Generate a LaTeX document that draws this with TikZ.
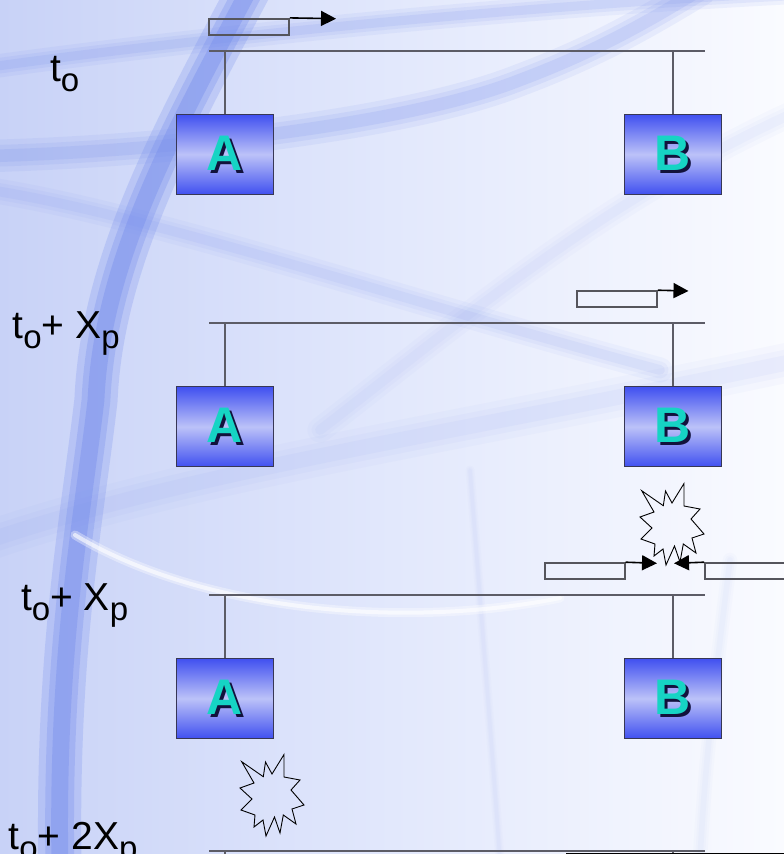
\documentclass[tikz,border=0pt]{standalone}
\usepackage{fontspec}
\setmainfont{Liberation Sans}
\usetikzlibrary{arrows.meta}
\definecolor{bgL}{RGB}{200,210,247}
\definecolor{bgM}{RGB}{226,232,252}
\definecolor{bgR}{RGB}{250,251,255}
\definecolor{streak}{RGB}{112,136,236}
\definecolor{boxedge}{RGB}{55,55,85}
\definecolor{boxA}{RGB}{64,80,240}
\definecolor{boxB}{RGB}{188,194,248}
\definecolor{letterc}{RGB}{22,212,196}
\definecolor{shadowc}{RGB}{18,18,60}
\definecolor{busc}{RGB}{92,92,102}
\definecolor{pktc}{RGB}{85,85,92}
\newcommand\shletter[1]{\makebox[0pt][l]{\hspace{2.8pt}\raisebox{-2.8pt}{\color{shadowc}#1}}{\color{letterc}#1}}
\newcommand\tsub[1]{\raisebox{-10pt}{\fontsize{33}{33}\selectfont #1}}
\tikzset{
  stationbox/.style={draw=boxedge, line width=1.2pt, top color=boxA, bottom color=boxA,
    middle color=boxB, minimum width=97pt, minimum height=80pt, inner sep=0pt,
    font=\fontsize{50}{50}\selectfont\bfseries},
  busline/.style={draw=busc, line width=1.6pt},
  pkt/.style={draw=pktc, line width=1.6pt, minimum width=80pt, minimum height=16pt, inner sep=0pt},
  pktarrow/.style={draw=black, line width=1.6pt, -{Triangle[length=15pt,width=15pt]}},
  boom/.style={draw=black, line width=0.9pt, line join=miter},
  timelabel/.style={anchor=base west, inner sep=0pt, outer sep=0pt, font=\fontsize{39}{39}\selectfont},
  bgstreak/.style={draw=streak, line cap=round},
}
% a soft-edged background streak: #1 strength, #2 width, #3 path
\newcommand\softstreak[3]{%
  \pgfmathsetmacro\swa{#2*1.8}\pgfmathsetmacro\swb{#2*1.2}\pgfmathsetmacro\swc{#2*0.7}%
  \pgfmathsetmacro\soa{#1*0.3}\pgfmathsetmacro\sob{#1*0.35}\pgfmathsetmacro\soc{#1*0.45}%
  \draw[bgstreak, line width=\swa pt, opacity=\soa] #3;
  \draw[bgstreak, line width=\swb pt, opacity=\sob] #3;
  \draw[bgstreak, line width=\swc pt, opacity=\soc] #3;}
\newcommand\boomshape[2]{%
  \draw[boom, shift={(#1,#2)}] (1.7,7.7) -- (23.3,22.7) -- (25.5,8) -- (32,20) -- (44,0.5) --
    (44,23) -- (60,26) -- (51,36) -- (64,51) -- (52,55) -- (56,70) -- (43.3,61) -- (40,79) --
    (34.5,63) -- (26,82) -- (23,66) -- (14,73) -- (15,61) -- (1,56) -- (12,45) -- (0,34) --
    (14,29) -- cycle;}
\begin{document}
\begin{tikzpicture}[x=1pt,y=-1pt]
\useasboundingbox (0,0) rectangle (784,854);
\clip (0,0) rectangle (784,854);
% background
\shade[left color=bgL, right color=bgR, middle color=bgM] (0,0) rectangle (784,854);
\softstreak{0.28}{13}{(-10,67) .. controls (150,45) and (450,10) .. (800,-8)}
\softstreak{0.32}{18}{(-10,156) .. controls (200,150) and (420,120) .. (520,80) .. controls (600,50) and (650,20) .. (700,-10)}
\softstreak{0.18}{14}{(-10,190) .. controls (150,215) and (400,300) .. (660,370)}
\softstreak{0.10}{14}{(320,430) .. controls (450,330) and (600,200) .. (800,110)}
\softstreak{0.12}{22}{(-10,540) .. controls (200,470) and (420,440) .. (800,360)}
\softstreak{0.08}{5}{(470,470) .. controls (480,600) and (490,720) .. (500,860)}
\softstreak{0.08}{8}{(730,560) .. controls (715,680) and (705,760) .. (700,860)}
% main arc
\softstreak{0.78}{24}{(250,-12) .. controls (175,130) and (102,260) .. (96,400) .. controls (82,520) and (56,650) .. (60,870)}
\draw[white, line width=9pt, opacity=.35, line cap=round] (75,535) .. controls (200,610) and (400,630) .. (560,598);
\draw[white, line width=4pt, opacity=.6, line cap=round] (75,535) .. controls (200,610) and (400,630) .. (560,598);
% time labels
\node[timelabel] (L1) at (50,81.7) {t\tsub{o}};
\node[timelabel] (L2) at (12.6,338.3) {t\tsub{o}+ X\tsub{p}};
\node[timelabel] (L3) at (21,610) {t\tsub{o}+ X\tsub{p}};
\node[timelabel] (L4) at (8.6,849) {t\tsub{o}+ 2X\tsub{p}};
% buses
\coordinate (b1l) at (209,50.7);  \coordinate (b1r) at (705,50.7);
\coordinate (b2l) at (209,323);   \coordinate (b2r) at (705,323);
\coordinate (b3l) at (209,594.8); \coordinate (b3r) at (705,594.8);
\coordinate (b4l) at (209,850.7); \coordinate (b4r) at (705,850.7);
\draw[busline] (b1l) -- (b1r);
\draw[busline] (b2l) -- (b2r);
\draw[busline] (b3l) -- (b3r);
\draw[busline] (b4l) -- (b4r);
% stations
\node[stationbox] (A1) at (224.7,154.4) {\shletter{A}};
\node[stationbox] (B1) at (672.7,154.4) {\shletter{B}};
\node[stationbox] (A2) at (224.7,426.8) {\shletter{A}};
\node[stationbox] (B2) at (672.7,426.8) {\shletter{B}};
\node[stationbox] (A3) at (224.7,698.5) {\shletter{A}};
\node[stationbox] (B3) at (672.7,698.5) {\shletter{B}};
\coordinate (t1a) at (224.7,50.7);  \coordinate (t1b) at (672.7,50.7);
\coordinate (t2a) at (224.7,323);   \coordinate (t2b) at (672.7,323);
\coordinate (t3a) at (224.7,594.8); \coordinate (t3b) at (672.7,594.8);
\coordinate (t4a) at (224.7,850.7); \coordinate (t4b) at (672.7,850.7);
\coordinate (e4a) at (224.7,862);   \coordinate (e4b) at (672.7,862);
\draw[busline] (t1a) -- (A1.north);
\draw[busline] (t1b) -- (B1.north);
\draw[busline] (t2a) -- (A2.north);
\draw[busline] (t2b) -- (B2.north);
\draw[busline] (t3a) -- (A3.north);
\draw[busline] (t3b) -- (B3.north);
\draw[busline] (t4a) -- (e4a);
\draw[busline] (t4b) -- (e4b);
% packets
\node[pkt] (p1) at (249,26.7) {};
\coordinate (p1t) at (336,18.7);
\draw[pktarrow] (p1.north east) -- (p1t);
\node[pkt] (p2) at (617,299) {};
\coordinate (p2t) at (688.5,291);
\draw[pktarrow] (p2.north east) -- (p2t);
\node[pkt] (p3l) at (584.7,571) {};
\coordinate (p3lt) at (657,563.3);
\draw[pktarrow] (p3l.north east) -- (p3lt);
\node[pkt] (p3r) at (745,571) {};
\coordinate (p3rt) at (674,563.3);
\draw[pktarrow] (p3r.north west) -- (p3rt);
\coordinate (s4l) at (566,853.3); \coordinate (s4r) at (790,853.3);
\draw[black, line width=1.6pt] (s4l) -- (s4r);
% collisions
\boomshape{640}{483}
\boomshape{240}{754}
\end{tikzpicture}
\end{document}
